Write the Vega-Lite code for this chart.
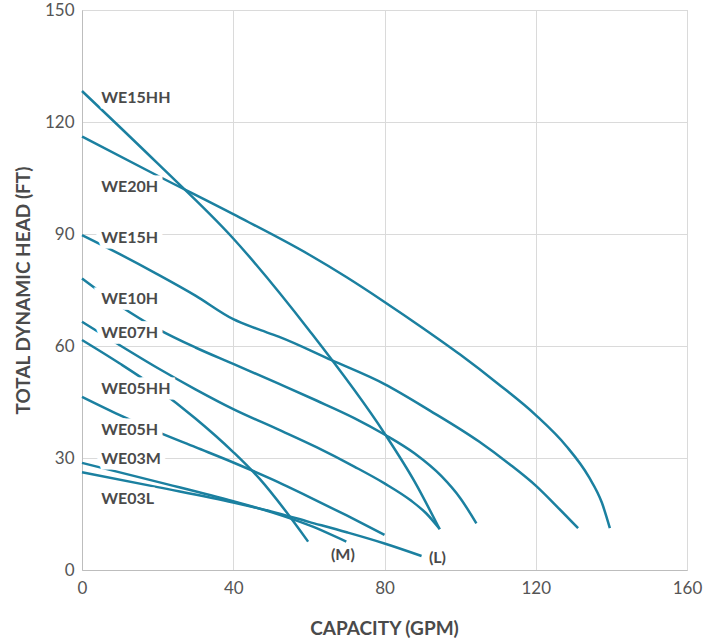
{
  "$schema": "https://vega.github.io/schema/vega-lite/v6.json",
  "width": 605,
  "height": 560,
  "autosize": "none",
  "padding": {"left": 82, "top": 10, "right": 25, "bottom": 68},
  "background": "white",
  "config": {
    "font": "Lato",
    "view": {"stroke": "#c4c4c4", "strokeWidth": 1},
    "axis": {
      "grid": true,
      "gridColor": "#dadada",
      "gridWidth": 1,
      "ticks": false,
      "domainColor": "#bdbdbd",
      "domainWidth": 1,
      "labelFont": "Lato",
      "labelFontSize": 17,
      "labelColor": "#555555",
      "labelFlush": false,
      "titleFont": "Lato",
      "titleFontSize": 19,
      "titleFontWeight": "bold",
      "titleColor": "#4a4a4a"
    }
  },
  "datasets": {
    "curves": [
      {"pump": "WE15HH", "gpm": 0, "head": 128.3},
      {"pump": "WE15HH", "gpm": 20, "head": 108.9},
      {"pump": "WE15HH", "gpm": 40, "head": 88.8},
      {"pump": "WE15HH", "gpm": 60, "head": 64.3},
      {"pump": "WE15HH", "gpm": 80, "head": 36.6},
      {"pump": "WE15HH", "gpm": 88, "head": 23.6},
      {"pump": "WE15HH", "gpm": 94.6, "head": 10.9},

      {"pump": "WE20H", "gpm": 0, "head": 116.1},
      {"pump": "WE20H", "gpm": 20, "head": 105.6},
      {"pump": "WE20H", "gpm": 40, "head": 95.3},
      {"pump": "WE20H", "gpm": 60, "head": 84.5},
      {"pump": "WE20H", "gpm": 70, "head": 78.4},
      {"pump": "WE20H", "gpm": 80, "head": 71.8},
      {"pump": "WE20H", "gpm": 90, "head": 64.9},
      {"pump": "WE20H", "gpm": 100, "head": 57.7},
      {"pump": "WE20H", "gpm": 110, "head": 49.9},
      {"pump": "WE20H", "gpm": 120, "head": 41.5},
      {"pump": "WE20H", "gpm": 128, "head": 33.3},
      {"pump": "WE20H", "gpm": 134, "head": 25},
      {"pump": "WE20H", "gpm": 137.5, "head": 18},
      {"pump": "WE20H", "gpm": 139.6, "head": 11.2},

      {"pump": "WE15H", "gpm": 0, "head": 89.7},
      {"pump": "WE15H", "gpm": 10, "head": 84.6},
      {"pump": "WE15H", "gpm": 20, "head": 79.2},
      {"pump": "WE15H", "gpm": 30, "head": 73.5},
      {"pump": "WE15H", "gpm": 40, "head": 67.2},
      {"pump": "WE15H", "gpm": 46, "head": 64.7},
      {"pump": "WE15H", "gpm": 52, "head": 62.5},
      {"pump": "WE15H", "gpm": 66, "head": 56.2},
      {"pump": "WE15H", "gpm": 80, "head": 49.8},
      {"pump": "WE15H", "gpm": 92, "head": 42.7},
      {"pump": "WE15H", "gpm": 105, "head": 34.4},
      {"pump": "WE15H", "gpm": 113, "head": 28.4},
      {"pump": "WE15H", "gpm": 120, "head": 22.6},
      {"pump": "WE15H", "gpm": 126, "head": 16.6},
      {"pump": "WE15H", "gpm": 131.2, "head": 11.2},

      {"pump": "WE10H", "gpm": 0, "head": 78.1},
      {"pump": "WE10H", "gpm": 10, "head": 70.8},
      {"pump": "WE10H", "gpm": 20, "head": 64.6},
      {"pump": "WE10H", "gpm": 30, "head": 59.6},
      {"pump": "WE10H", "gpm": 40, "head": 55.2},
      {"pump": "WE10H", "gpm": 52, "head": 49.9},
      {"pump": "WE10H", "gpm": 62, "head": 45.4},
      {"pump": "WE10H", "gpm": 72, "head": 40.7},
      {"pump": "WE10H", "gpm": 80, "head": 36.3},
      {"pump": "WE10H", "gpm": 88, "head": 31.2},
      {"pump": "WE10H", "gpm": 95, "head": 25.2},
      {"pump": "WE10H", "gpm": 100, "head": 19.3},
      {"pump": "WE10H", "gpm": 104.3, "head": 12.5},

      {"pump": "WE07H", "gpm": 0, "head": 66.5},
      {"pump": "WE07H", "gpm": 10, "head": 60.2},
      {"pump": "WE07H", "gpm": 20, "head": 54.1},
      {"pump": "WE07H", "gpm": 30, "head": 48.4},
      {"pump": "WE07H", "gpm": 40, "head": 43.1},
      {"pump": "WE07H", "gpm": 52, "head": 37.6},
      {"pump": "WE07H", "gpm": 62, "head": 32.9},
      {"pump": "WE07H", "gpm": 72, "head": 27.7},
      {"pump": "WE07H", "gpm": 80, "head": 23.2},
      {"pump": "WE07H", "gpm": 87, "head": 18.6},
      {"pump": "WE07H", "gpm": 91, "head": 15.2},
      {"pump": "WE07H", "gpm": 94.6, "head": 11},

      {"pump": "WE05HH", "gpm": 0, "head": 61.6},
      {"pump": "WE05HH", "gpm": 10, "head": 55.3},
      {"pump": "WE05HH", "gpm": 20, "head": 48.5},
      {"pump": "WE05HH", "gpm": 30, "head": 40.6},
      {"pump": "WE05HH", "gpm": 40, "head": 31.6},
      {"pump": "WE05HH", "gpm": 47, "head": 24.4},
      {"pump": "WE05HH", "gpm": 54, "head": 15.6},
      {"pump": "WE05HH", "gpm": 59.8, "head": 7.6},

      {"pump": "WE05H", "gpm": 0, "head": 46.4},
      {"pump": "WE05H", "gpm": 10, "head": 41.5},
      {"pump": "WE05H", "gpm": 20, "head": 37},
      {"pump": "WE05H", "gpm": 30, "head": 32.9},
      {"pump": "WE05H", "gpm": 40, "head": 28.8},
      {"pump": "WE05H", "gpm": 50, "head": 24.4},
      {"pump": "WE05H", "gpm": 60, "head": 19.6},
      {"pump": "WE05H", "gpm": 70, "head": 14.6},
      {"pump": "WE05H", "gpm": 80, "head": 9.4},

      {"pump": "WE03M", "gpm": 0, "head": 28.7},
      {"pump": "WE03M", "gpm": 20, "head": 23.6},
      {"pump": "WE03M", "gpm": 40, "head": 18.4},
      {"pump": "WE03M", "gpm": 50, "head": 15.5},
      {"pump": "WE03M", "gpm": 60, "head": 12},
      {"pump": "WE03M", "gpm": 69.9, "head": 7.6},

      {"pump": "WE03L", "gpm": 0, "head": 26.2},
      {"pump": "WE03L", "gpm": 20, "head": 22.2},
      {"pump": "WE03L", "gpm": 40, "head": 18.1},
      {"pump": "WE03L", "gpm": 50, "head": 15.7},
      {"pump": "WE03L", "gpm": 60, "head": 12.9},
      {"pump": "WE03L", "gpm": 70, "head": 10.1},
      {"pump": "WE03L", "gpm": 80, "head": 7.1},
      {"pump": "WE03L", "gpm": 89.8, "head": 3.75}
    ],
    "pumpLabels": [
      {"label": "WE15HH", "gpm": 5.1, "head": 126.5},
      {"label": "WE20H", "gpm": 5.1, "head": 102.5},
      {"label": "WE15H", "gpm": 5.1, "head": 89},
      {"label": "WE10H", "gpm": 5.1, "head": 72.7},
      {"label": "WE07H", "gpm": 5.1, "head": 63.5},
      {"label": "WE05HH", "gpm": 5.1, "head": 48.4},
      {"label": "WE05H", "gpm": 5.1, "head": 37.6},
      {"label": "WE03M", "gpm": 5.1, "head": 29.8},
      {"label": "WE03L", "gpm": 5.1, "head": 18.9}
    ],
    "endLabels": [
      {"label": "(M)", "gpm": 69, "head": 4.0},
      {"label": "(L)", "gpm": 94, "head": 3.1}
    ]
  },
  "encoding": {
    "x": {
      "field": "gpm",
      "type": "quantitative",
      "scale": {"domain": [0, 160], "nice": false, "zero": true},
      "axis": {
        "values": [0, 40, 80, 120, 160],
        "title": "CAPACITY (GPM)",
        "labelPadding": 10,
        "titleX": 302,
        "titleY": 64,
        "titleBaseline": "alphabetic",
        "titleAlign": "center"
      }
    },
    "y": {
      "field": "head",
      "type": "quantitative",
      "scale": {"domain": [0, 150], "nice": false},
      "axis": {
        "values": [0, 30, 60, 90, 120, 150],
        "title": "TOTAL DYNAMIC HEAD (FT)",
        "labelPadding": 8,
        "titleAngle": -90,
        "titleX": -53,
        "titleY": 280,
        "titleBaseline": "alphabetic",
        "titleAlign": "center"
      }
    }
  },
  "layer": [
    {
      "data": {"name": "curves"},
      "mark": {"type": "line", "interpolate": "monotone", "color": "#1b80a0", "strokeWidth": 2.5, "strokeCap": "butt"},
      "encoding": {"detail": {"field": "pump", "type": "nominal"}}
    },
    {
      "data": {"name": "pumpLabels"},
      "mark": {"type": "text", "align": "left", "baseline": "middle", "font": "Lato", "fontSize": 16, "fontWeight": "bold", "fill": "white", "stroke": "white", "strokeWidth": 11, "strokeJoin": "miter"},
      "encoding": {"text": {"field": "label", "type": "nominal"}}
    },
    {
      "data": {"name": "pumpLabels"},
      "mark": {"type": "text", "align": "left", "baseline": "middle", "font": "Lato", "fontSize": 16, "fontWeight": "bold", "color": "#4a4a4a"},
      "encoding": {"text": {"field": "label", "type": "nominal"}}
    },
    {
      "data": {"name": "endLabels"},
      "mark": {"type": "text", "align": "center", "baseline": "middle", "font": "Lato", "fontSize": 16, "fontWeight": "bold", "color": "#4a4a4a"},
      "encoding": {"text": {"field": "label", "type": "nominal"}}
    }
  ]
}
